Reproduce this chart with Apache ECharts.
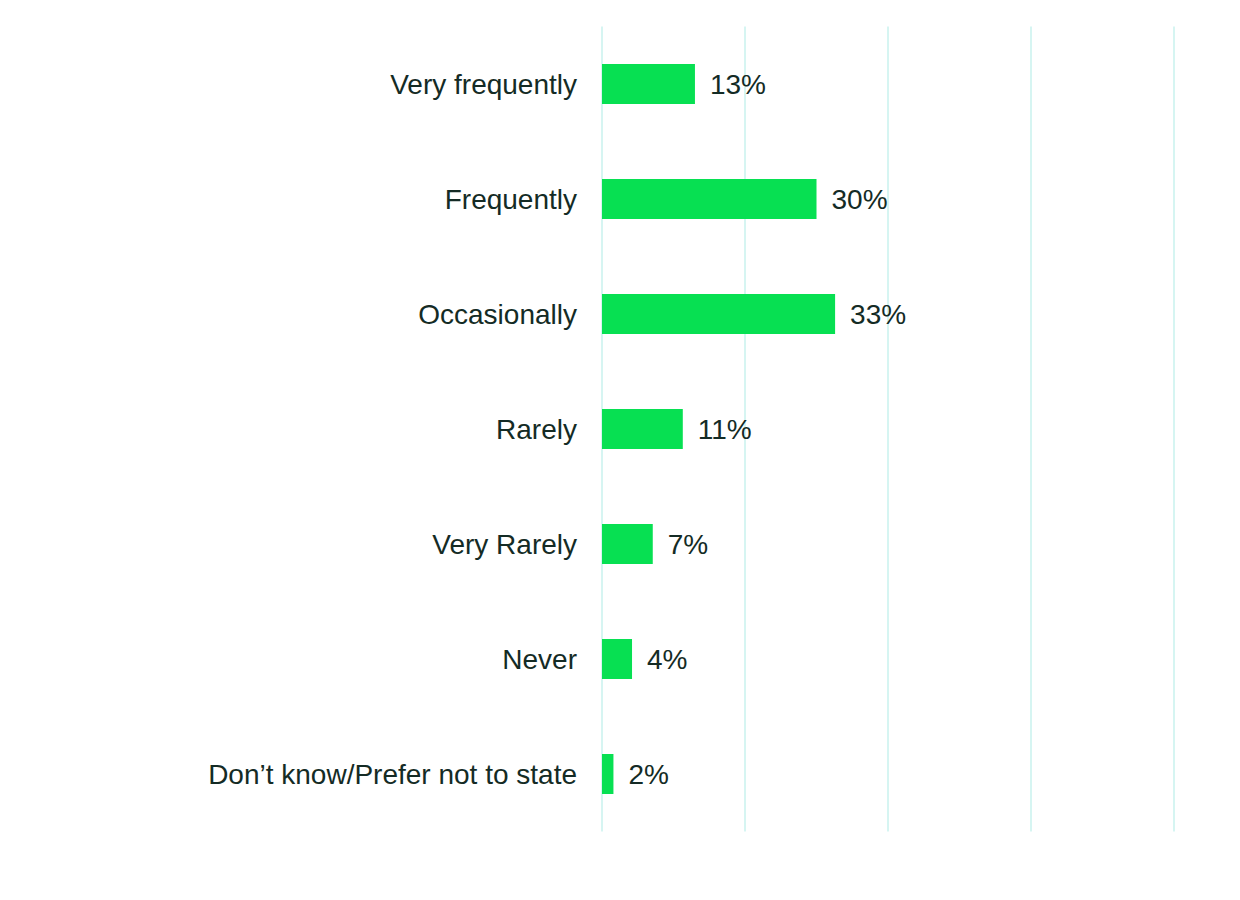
<!DOCTYPE html>
<html><head><meta charset="utf-8">
<script src="https://cdn.jsdelivr.net/npm/echarts@6/dist/echarts.min.js"></script>
<style>html,body{margin:0;padding:0;background:#fff}#c{width:1240px;height:900px}</style>
</head><body><div id="c"></div>
<script>
const categories = ["Very frequently","Frequently","Occasionally","Rarely","Very Rarely","Never","Don\u2019t know/Prefer not to state"];
const values = [13, 30, 32.6, 11.3, 7.1, 4.2, 1.6];
const labels = ["13%","30%","33%","11%","7%","4%","2%"];
const FONT = 'Arimo, "Liberation Sans", Arial, Helvetica, sans-serif';
const chart = echarts.init(document.getElementById('c'), null, {renderer:'svg'});
chart.setOption({
  animation:false,
  grid:{left:602, width:572, top:26.5, height:805, containLabel:false},
  xAxis:{type:'value', min:0, max:80, interval:20,
    axisLabel:{show:false}, axisLine:{show:false}, axisTick:{show:false},
    splitLine:{show:true, lineStyle:{color:'#c9f2ee', width:1.5}}},
  yAxis:{type:'category', data:categories, inverse:true,
    axisLine:{show:false}, axisTick:{show:false},
    axisLabel:{margin:25, fontFamily:FONT, fontSize:28, color:'#142b25'}},
  series:[{type:'bar', data:values, barWidth:40, itemStyle:{color:'#07e052'},
    label:{show:true, position:'right', distance:15, fontFamily:FONT, fontSize:28, color:'#142b25',
      formatter:p=>labels[p.dataIndex]}}]
});
</script></body></html>
